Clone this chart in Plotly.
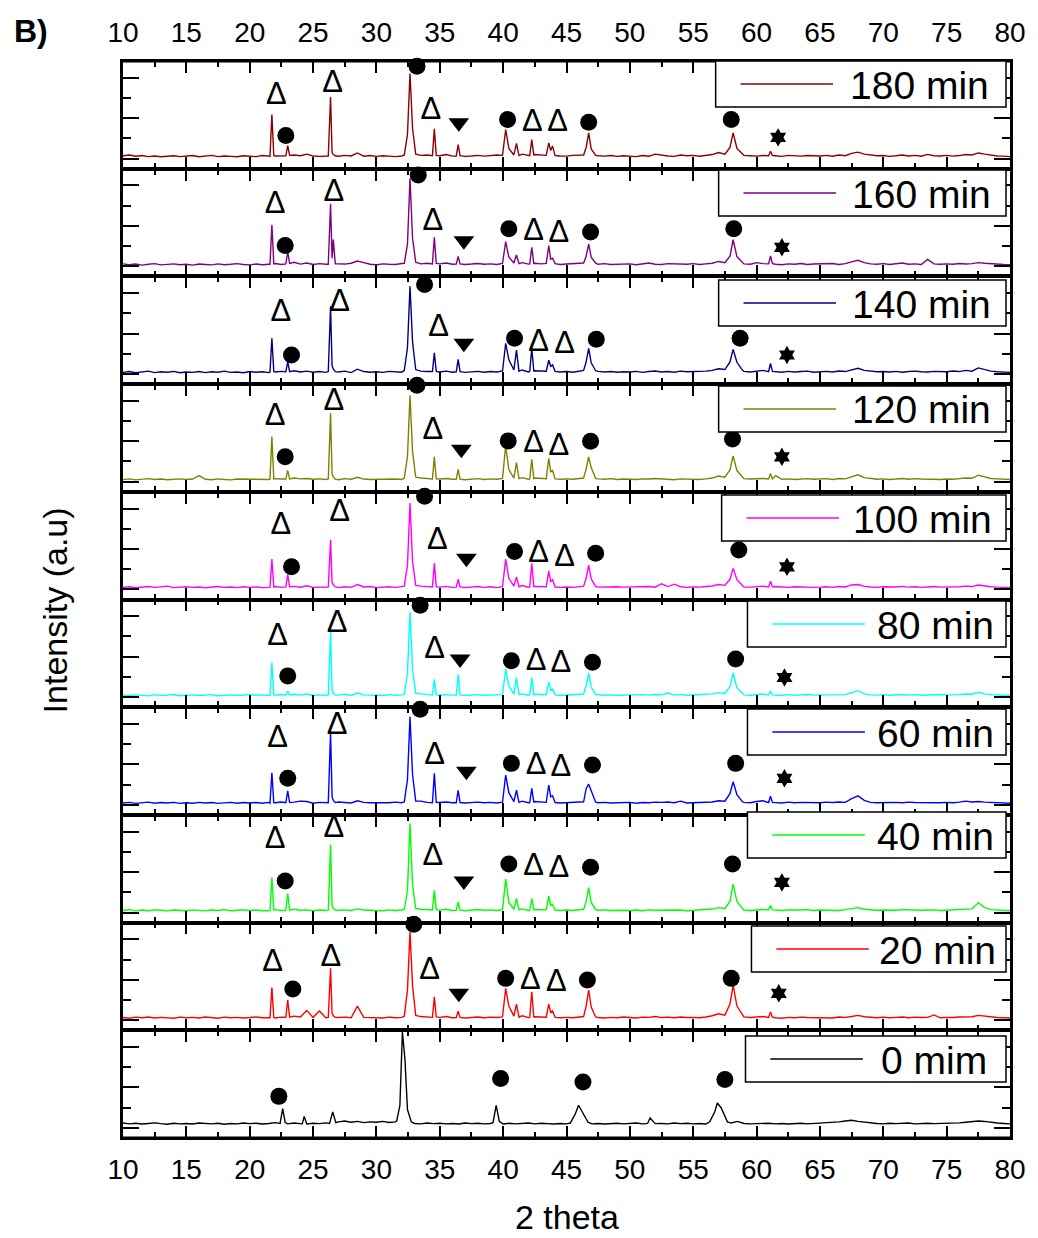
import numpy as np
import plotly.graph_objects as go
from plotly.subplots import make_subplots

# ---------------------------------------------------------------------------
# XRD patterns (intensity in arbitrary units) for the reaction-time series
# ---------------------------------------------------------------------------
TWO_THETA_GRID = np.round(np.arange(10.0, 80.0001, 0.5), 2)   # baseline sampling, 2-theta

SERIES_LABELS = ["180 min", "160 min", "140 min", "120 min", "100 min",
                 "80 min", "60 min", "40 min", "20 min", "0 mim"]
SERIES_COLORS = ["#8B0000", "#800080", "#000080", "#808000", "#FF00FF",
                 "#00FFFF", "#0000FF", "#00FF00", "#FF0000", "#000000"]

# baseline intensity on TWO_THETA_GRID (one row = 5 degrees)
BASE_180 = [14, 18, 12, 15, 10, 13, 9, 12, 14, 10,
            11, 15, 9, 12, 16, 10, 13, 11, 9, 14,
            12, 10, 15, 11, 13, 12, 10, 18, 14, 22,
            13, 11, 10, 14, 12, 16, 13, 28, 12, 15,
            11, 14, 12, 10, 13, 15, 11, 16, 18, 20,
            14, 20, 12, 15, 11, 13, 16, 12, 14, 18,
            20, 16, 18, 22, 14, 20, 18, 15, 22, 13,
            12, 16, 18, 24, 17, 14, 12, 15, 11, 14,
            13, 10, 15, 12, 22, 16, 13, 11, 18, 14,
            16, 12, 15, 20, 30, 26, 18, 22, 16, 14,
            12, 15, 20, 14, 11, 16, 13, 12, 15, 14,
            13, 16, 12, 18, 14, 26, 32, 22, 17, 14,
            15, 11, 14, 18, 13, 16, 12, 21, 14, 13,
            16, 12, 15, 20, 18, 28, 22, 17, 13, 12,
            10]
BASE_160 = [12, 8, 11, 6, 10, 13, 7, 9, 12, 8,
            10, 6, 11, 9, 7, 12, 8, 10, 13, 9,
            7, 11, 8, 10, 14, 9, 12, 20, 11, 16,
            9, 13, 10, 8, 12, 11, 15, 26, 18, 10,
            8, 12, 10, 9, 14, 13, 10, 12, 15, 18,
            12, 16, 10, 13, 9, 11, 14, 10, 12, 9,
            14, 12, 10, 18, 11, 15, 12, 10, 16, 9,
            11, 13, 15, 20, 12, 10, 13, 9, 11, 10,
            12, 8, 11, 16, 10, 9, 13, 12, 14, 10,
            13, 9, 12, 15, 24, 20, 16, 15, 12, 10,
            18, 13, 16, 10, 8, 12, 10, 14, 9, 11,
            12, 10, 14, 9, 13, 22, 30, 18, 12, 10,
            13, 9, 11, 16, 10, 12, 9, 34, 12, 10,
            12, 10, 14, 11, 13, 18, 15, 12, 10, 9,
            8]
BASE_140 = [8, 12, 6, 10, 14, 7, 11, 9, 13, 6,
            10, 8, 12, 7, 11, 9, 14, 8, 10, 6,
            12, 9, 11, 7, 10, 13, 8, 16, 10, 14,
            9, 12, 8, 11, 10, 14, 7, 24, 12, 9,
            11, 8, 13, 10, 9, 12, 10, 14, 12, 16,
            10, 14, 9, 12, 8, 11, 13, 9, 12, 10,
            14, 18, 12, 20, 10, 16, 14, 12, 18, 10,
            12, 9, 14, 22, 11, 13, 10, 12, 9, 11,
            10, 13, 8, 12, 15, 10, 12, 9, 14, 11,
            12, 10, 14, 18, 26, 22, 16, 18, 13, 10,
            14, 18, 12, 11, 9, 13, 10, 12, 14, 9,
            11, 13, 10, 15, 12, 20, 28, 18, 13, 11,
            12, 10, 13, 9, 12, 14, 11, 10, 13, 12,
            11, 15, 12, 18, 14, 30, 22, 14, 11, 9,
            8]
BASE_120 = [10, 14, 9, 12, 15, 11, 13, 10, 12, 14,
            11, 13, 30, 12, 10, 14, 11, 9, 13, 12,
            14, 10, 12, 11, 15, 13, 12, 18, 14, 16,
            12, 14, 11, 13, 10, 15, 12, 22, 13, 11,
            12, 10, 14, 13, 11, 16, 12, 18, 14, 20,
            13, 16, 12, 14, 10, 13, 15, 11, 14, 12,
            18, 16, 14, 20, 12, 18, 16, 13, 20, 12,
            14, 12, 16, 26, 18, 14, 12, 15, 11, 13,
            12, 11, 14, 13, 16, 15, 12, 10, 14, 12,
            13, 11, 14, 18, 28, 24, 18, 20, 15, 13,
            14, 16, 20, 30, 12, 14, 11, 13, 15, 12,
            13, 15, 11, 16, 14, 24, 34, 20, 15, 12,
            14, 11, 13, 16, 12, 15, 13, 12, 14, 11,
            13, 12, 15, 18, 17, 32, 24, 16, 14, 12,
            11]
BASE_100 = [9, 13, 8, 11, 14, 10, 12, 16, 9, 11,
            13, 10, 12, 8, 11, 14, 10, 12, 9, 13,
            10, 12, 9, 11, 14, 10, 13, 15, 11, 18,
            10, 12, 14, 11, 9, 13, 10, 24, 12, 14,
            9, 11, 13, 10, 12, 14, 10, 16, 15, 18,
            11, 15, 10, 13, 9, 12, 14, 10, 13, 9,
            16, 14, 12, 19, 11, 15, 12, 10, 16, 10,
            12, 10, 14, 20, 13, 11, 12, 10, 13, 11,
            12, 10, 13, 14, 11, 28, 14, 26, 13, 10,
            12, 11, 14, 17, 24, 22, 16, 15, 12, 11,
            14, 16, 22, 14, 12, 10, 13, 11, 12, 10,
            11, 13, 10, 14, 12, 22, 24, 15, 12, 10,
            13, 11, 12, 15, 11, 13, 10, 12, 14, 11,
            12, 10, 13, 16, 14, 22, 17, 13, 11, 10,
            9]
BASE_80 = [10, 7, 11, 9, 6, 12, 8, 10, 13, 7,
           9, 11, 8, 10, 12, 7, 9, 11, 8, 10,
           12, 9, 11, 8, 10, 13, 9, 14, 10, 15,
           8, 11, 9, 12, 10, 14, 8, 20, 11, 9,
           10, 8, 12, 9, 11, 14, 10, 16, 12, 15,
           9, 12, 10, 13, 8, 11, 12, 9, 11, 10,
           14, 12, 10, 16, 9, 14, 12, 10, 15, 8,
           10, 9, 12, 18, 10, 12, 9, 11, 8, 10,
           11, 9, 12, 10, 13, 11, 20, 10, 12, 9,
           11, 10, 13, 16, 22, 20, 14, 15, 11, 9,
           12, 15, 11, 10, 8, 12, 9, 11, 13, 10,
           11, 12, 10, 14, 12, 22, 32, 16, 11, 10,
           12, 9, 11, 13, 10, 12, 9, 11, 10, 13,
           11, 10, 12, 15, 14, 24, 16, 12, 10, 9,
           8]
BASE_60 = [9, 12, 7, 10, 13, 8, 11, 9, 12, 7,
           10, 8, 12, 9, 11, 7, 10, 12, 8, 11,
           9, 11, 8, 12, 10, 14, 9, 13, 18, 16,
           8, 12, 10, 11, 14, 12, 9, 20, 12, 10,
           9, 11, 10, 13, 10, 14, 16, 18, 12, 20,
           11, 14, 10, 12, 9, 11, 13, 10, 12, 9,
           15, 13, 11, 18, 10, 16, 14, 11, 17, 9,
           11, 10, 13, 24, 12, 10, 12, 9, 11, 10,
           12, 8, 11, 10, 13, 12, 14, 10, 18, 9,
           11, 10, 13, 14, 20, 18, 14, 16, 12, 10,
           16, 20, 13, 11, 9, 13, 10, 12, 11, 9,
           10, 13, 11, 14, 12, 30, 44, 22, 12, 10,
           11, 9, 12, 10, 13, 11, 10, 12, 11, 10,
           12, 10, 13, 18, 14, 16, 13, 11, 10, 9,
           8]
BASE_40 = [10, 14, 8, 12, 9, 13, 11, 8, 12, 10,
           9, 13, 11, 8, 12, 10, 14, 9, 11, 13,
           10, 12, 9, 11, 14, 10, 12, 16, 11, 13,
           9, 12, 10, 14, 11, 13, 10, 18, 12, 10,
           11, 9, 13, 10, 12, 14, 11, 16, 14, 18,
           12, 16, 10, 13, 9, 12, 15, 11, 13, 10,
           16, 14, 12, 18, 10, 15, 13, 11, 18, 10,
           12, 10, 14, 20, 12, 11, 13, 10, 12, 11,
           10, 12, 9, 13, 11, 12, 10, 14, 12, 9,
           11, 10, 14, 17, 24, 20, 16, 16, 12, 10,
           13, 15, 12, 11, 10, 13, 11, 12, 14, 10,
           12, 11, 13, 10, 14, 18, 24, 16, 13, 11,
           12, 10, 11, 14, 12, 13, 11, 12, 13, 10,
           12, 11, 14, 16, 18, 48, 24, 14, 12, 10,
           9]
BASE_20 = [13, 10, 15, 12, 16, 11, 14, 12, 10, 15,
           12, 14, 11, 16, 13, 10, 15, 12, 14, 11,
           13, 16, 12, 14, 11, 15, 13, 20, 16, 48,
           14, 45, 12, 16, 13, 15, 12, 70, 14, 12,
           13, 11, 15, 12, 14, 16, 12, 18, 16, 20,
           14, 18, 12, 15, 11, 13, 16, 12, 15, 13,
           18, 16, 14, 22, 13, 17, 15, 12, 20, 12,
           14, 12, 16, 24, 15, 13, 11, 14, 12, 16,
           13, 11, 15, 14, 18, 13, 15, 12, 16, 13,
           14, 12, 16, 22, 32, 28, 20, 22, 16, 13,
           15, 18, 14, 12, 10, 14, 12, 15, 13, 12,
           14, 13, 11, 16, 14, 18, 24, 17, 14, 12,
           15, 12, 14, 16, 12, 15, 13, 14, 26, 12,
           14, 13, 16, 18, 17, 24, 20, 15, 13, 12,
           11]
BASE_0 = [24, 20, 23, 19, 22, 25, 21, 18, 23, 20,
          22, 19, 24, 21, 20, 23, 18, 22, 20, 24,
          21, 23, 19, 22, 26, 21, 20, 24, 22, 19,
          23, 21, 25, 22, 30, 34, 28, 32, 26, 30,
          28, 32, 27, 30, 26, 34, 22, 20, 24, 21,
          23, 20, 22, 19, 24, 21, 23, 20, 22, 21,
          19, 23, 20, 22, 24, 20, 23, 21, 19, 22,
          20, 24, 21, 23, 20, 22, 19, 21, 23, 20,
          22, 24, 20, 23, 21, 22, 20, 24, 21, 23,
          20, 22, 19, 26, 30, 28, 24, 32, 22, 20,
          22, 21, 23, 20, 22, 19, 21, 23, 20, 22,
          21, 24, 26, 30, 34, 38, 32, 28, 24, 22,
          20, 23, 21, 22, 24, 20, 22, 23, 21, 22,
          24, 22, 25, 28, 30, 34, 32, 27, 24, 22,
          20]

# Bragg reflections: 2-theta vertices of each reflection profile
PEAK_X = [[21.6, 21.75, 21.9],
          [22.85, 23.0, 23.15],
          [26.2, 26.38, 26.5, 26.6, 26.75],
          [32.2, 32.45, 32.65, 32.85, 33.1],
          [34.42, 34.57, 34.72],
          [36.3, 36.45, 36.6],
          [39.95, 40.2, 40.45, 40.85, 41.05, 41.25],
          [42.1, 42.26, 42.42],
          [43.4, 43.6, 43.75, 43.9, 44.1],
          [46.35, 46.55, 46.75, 46.95, 47.3],
          [57.5, 57.9, 58.15, 58.45, 58.9],
          [60.95, 61.1, 61.25]]
PEAK_X_0 = [[22.4, 22.6, 22.8],
            [24.15, 24.3, 24.45],
            [26.3, 26.55, 26.8],
            [31.6, 31.85, 32.05, 32.25, 32.45, 32.75],
            [39.2, 39.45, 39.7],
            [45.3, 45.7, 45.95, 46.3, 46.7],
            [51.4, 51.6, 51.9],
            [56.3, 56.7, 56.9, 57.2, 57.7]]

# intensities at the profile vertices
PEAKS_180 = [[12, 218, 14], [14, 64, 16], [13, 305, 30, 20, 14], [18, 120, 421, 150, 22],
             [14, 147, 16], [13, 69, 15], [16, 144, 50, 18, 75, 15], [15, 94, 18],
             [16, 78, 40, 62, 15], [18, 55, 127, 48, 16], [22, 55, 127, 50, 18], [14, 36, 15]]
PEAKS_160 = [[10, 205, 12], [12, 72, 14], [10, 310, 40, 132, 12], [15, 110, 435, 140, 20],
             [12, 144, 14], [11, 49, 12], [14, 122, 45, 16, 56, 13], [12, 94, 14],
             [14, 102, 35, 40, 13], [16, 50, 110, 45, 15], [18, 50, 132, 48, 16], [12, 52, 13]]
PEAKS_140 = [[10, 177, 12], [11, 60, 12], [12, 335, 40, 25, 12], [18, 130, 434, 160, 22],
             [12, 105, 13], [11, 72, 12], [15, 152, 70, 20, 118, 14], [13, 127, 15],
             [14, 68, 38, 45, 13], [18, 60, 127, 55, 16], [22, 60, 122, 58, 18], [12, 53, 13]]
PEAKS_120 = [[12, 223, 14], [13, 56, 14], [14, 339, 38, 24, 13], [18, 125, 428, 150, 22],
             [13, 123, 14], [12, 61, 13], [16, 178, 60, 18, 95, 15], [14, 111, 15],
             [15, 116, 50, 55, 14], [18, 62, 123, 70, 16], [22, 58, 128, 55, 18], [13, 40, 14]]
PEAKS_100 = [[10, 150, 12], [12, 74, 13], [12, 245, 35, 22, 12], [16, 120, 428, 140, 20],
             [12, 129, 13], [11, 50, 12], [14, 150, 55, 16, 62, 13], [12, 129, 14],
             [13, 91, 40, 48, 12], [16, 55, 120, 52, 15], [20, 50, 104, 48, 16], [12, 40, 13]]
PEAKS_80 = [[9, 171, 11], [10, 30, 11], [11, 321, 35, 20, 10], [14, 120, 421, 135, 18],
            [10, 88, 11], [10, 113, 11], [12, 138, 55, 15, 97, 12], [11, 97, 12],
            [12, 75, 35, 40, 11], [15, 55, 118, 50, 13], [18, 52, 118, 45, 14], [10, 30, 11]]
PEAKS_60 = [[8, 159, 10], [10, 69, 11], [10, 359, 40, 22, 11], [15, 125, 435, 150, 18],
            [10, 156, 12], [10, 72, 11], [13, 147, 60, 16, 72, 12], [11, 81, 12],
            [12, 98, 40, 45, 11], [15, 80, 102, 70, 13], [18, 55, 114, 50, 14], [11, 42, 12]]
PEAKS_40 = [[10, 173, 12], [11, 94, 12], [12, 336, 35, 20, 12], [16, 110, 440, 135, 20],
            [12, 110, 13], [11, 53, 12], [14, 165, 50, 16, 70, 13], [12, 69, 14],
            [13, 82, 35, 40, 12], [16, 55, 123, 50, 14], [20, 55, 140, 55, 16], [12, 35, 13]]
PEAKS_20 = [[12, 161, 14], [14, 100, 15], [14, 257, 35, 22, 14], [20, 150, 437, 170, 24],
            [14, 116, 16], [13, 44, 14], [16, 158, 70, 20, 79, 15], [14, 141, 16],
            [15, 79, 40, 45, 14], [18, 70, 149, 65, 16], [25, 80, 174, 70, 20], [14, 40, 15]]
PEAKS_0 = [[22, 95, 26], [20, 57, 21], [22, 79, 26], [35, 110, 475, 340, 90, 30],
           [26, 112, 32], [24, 70, 112, 75, 28], [22, 49, 24], [30, 80, 123, 100, 30]]

# phase labels: Δ, ● , ▼ and ✶ above the reflections
PHASE_KINDS = ["delta", "dot", "delta", "dot", "delta", "down",
               "dot", "delta", "delta", "dot", "dot", "star"]
PHASE_KINDS_0 = ["dot", "dot", "dot", "dot", "dot"]

PHASE_X_180 = [22.1, 22.85, 26.55, 33.2, 34.3, 36.5, 40.35, 42.3, 44.3, 46.75, 58.0, 61.7]
PHASE_Y_180 = [308, 114, 366, 457, 234, 177, 193, 173, 173, 180, 193, 105]
PHASE_X_160 = [22.0, 22.8, 26.65, 33.3, 34.45, 36.9, 40.45, 42.4, 44.4, 46.9, 58.2, 62.0]
PHASE_Y_160 = [302, 103, 360, 452, 219, 127, 186, 170, 160, 170, 186, 94]
PHASE_X_140 = [22.45, 23.3, 27.1, 33.8, 34.9, 36.9, 40.9, 42.8, 44.85, 47.35, 58.7, 62.4]
PHASE_Y_140 = [301, 94, 351, 443, 226, 152, 177, 152, 143, 172, 177, 94]
PHASE_X_120 = [22.0, 22.8, 26.65, 33.2, 34.45, 36.7, 40.4, 42.4, 44.4, 46.9, 58.1, 62.0]
PHASE_Y_120 = [319, 123, 394, 477, 252, 161, 202, 186, 169, 200, 211, 123]
PHASE_X_100 = [22.45, 23.3, 27.1, 33.8, 34.8, 37.1, 40.9, 42.8, 44.85, 47.3, 58.6, 62.4]
PHASE_Y_100 = [312, 112, 378, 461, 237, 154, 187, 174, 154, 179, 195, 112]
PHASE_X_80 = [22.2, 23.0, 26.9, 33.45, 34.6, 36.6, 40.65, 42.6, 44.55, 47.05, 58.35, 62.2]
PHASE_Y_80 = [296, 105, 362, 454, 230, 188, 180, 172, 162, 172, 188, 97]
PHASE_X_60 = [22.2, 23.0, 26.9, 33.45, 34.6, 37.1, 40.65, 42.6, 44.55, 47.05, 58.35, 62.2]
PHASE_Y_60 = [322, 131, 389, 473, 240, 166, 205, 189, 181, 197, 205, 131]
PHASE_X_40 = [22.0, 22.8, 26.65, 33.2, 34.45, 36.9, 40.45, 42.4, 44.4, 46.9, 58.1, 62.0]
PHASE_Y_40 = [356, 156, 414, 497, 273, 156, 240, 224, 215, 224, 240, 149]
PHASE_X_20 = [21.8, 23.4, 26.4, 32.95, 34.2, 36.5, 40.2, 42.15, 44.2, 46.65, 58.0, 61.75]
PHASE_Y_20 = [282, 154, 307, 475, 241, 133, 207, 191, 183, 199, 207, 133]
PHASE_X_0 = [22.3, 32.75, 39.8, 46.3, 57.5]
PHASE_Y_0 = [156, 508, 244, 227, 239]

BASELINES = [BASE_180, BASE_160, BASE_140, BASE_120, BASE_100,
             BASE_80, BASE_60, BASE_40, BASE_20, BASE_0]
PEAK_LAYOUTS = [PEAK_X] * 9 + [PEAK_X_0]
PEAK_VALUES = [PEAKS_180, PEAKS_160, PEAKS_140, PEAKS_120, PEAKS_100,
               PEAKS_80, PEAKS_60, PEAKS_40, PEAKS_20, PEAKS_0]
PHASE_XS = [PHASE_X_180, PHASE_X_160, PHASE_X_140, PHASE_X_120, PHASE_X_100,
            PHASE_X_80, PHASE_X_60, PHASE_X_40, PHASE_X_20, PHASE_X_0]
PHASE_YS = [PHASE_Y_180, PHASE_Y_160, PHASE_Y_140, PHASE_Y_120, PHASE_Y_100,
            PHASE_Y_80, PHASE_Y_60, PHASE_Y_40, PHASE_Y_20, PHASE_Y_0]
PHASE_KIND_LISTS = [PHASE_KINDS] * 9 + [PHASE_KINDS_0]

X_TICK_VALUES = [10, 15, 20, 25, 30, 35, 40, 45, 50, 55, 60, 65, 70, 75, 80]

# ---------------------------------------------------------------------------
# figure geometry (pixels)
# ---------------------------------------------------------------------------
W, H = 1038, 1238
ML, MR, MT, MB = 123, 23, 61, 100
PLOT_W = W - ML - MR
PLOT_H = H - MT - MB
FONT = "Liberation Sans, Arial, Helvetica, sans-serif"

LEGEND_LEFT_PX = [719, 722, 722, 722, 725, 751, 751, 751, 755, 749]
LEGEND_TOP_PX = [61, 170, 280, 386, 495, 601, 709, 812, 926, 1036]
LEGEND_RIGHT_PX = 1011
LEGEND_H_PX = 46


def px_x(p):
    return (p - ML) / PLOT_W


def px_y(p):
    return 1 - (p - MT) / PLOT_H


def pattern(baseline, runs_x, runs_y):
    """Merge the baseline samples with the reflection profile vertices."""
    gx = TWO_THETA_GRID
    keep = np.ones(len(gx), dtype=bool)
    for rx in runs_x:
        keep &= ~((gx >= rx[0]) & (gx <= rx[-1]))
    xs = np.concatenate([gx[keep], [v for r in runs_x for v in r]])
    ys = np.concatenate([np.asarray(baseline, float)[keep], [v for r in runs_y for v in r]])
    order = np.argsort(xs, kind="stable")
    return xs[order], ys[order]


n = len(SERIES_LABELS)
fig = make_subplots(rows=n, cols=1, vertical_spacing=0)

for i in range(n):
    row = i + 1
    xs, ys = pattern(BASELINES[i], PEAK_LAYOUTS[i], PEAK_VALUES[i])
    fig.add_trace(go.Scatter(x=xs, y=ys, mode="lines",
                             line=dict(color=SERIES_COLORS[i], width=1.4),
                             name=SERIES_LABELS[i], showlegend=False,
                             hoverinfo="skip"), row=row, col=1)

    px_ = np.asarray(PHASE_XS[i])
    py_ = np.asarray(PHASE_YS[i])
    kinds = np.asarray(PHASE_KIND_LISTS[i])

    sel = kinds == "delta"
    if sel.any():
        fig.add_trace(go.Scatter(x=px_[sel], y=py_[sel], mode="text", text=["Δ"] * int(sel.sum()),
                                 textposition="middle center",
                                 textfont=dict(family=FONT, size=31, color="black"),
                                 cliponaxis=False, showlegend=False, hoverinfo="skip"),
                      row=row, col=1)
    for kind, symbol, size in (("dot", "circle", 17), ("down", "triangle-down", 18),
                               ("star", "hexagram", 14)):
        sel = kinds == kind
        if sel.any():
            fig.add_trace(go.Scatter(x=px_[sel], y=py_[sel], mode="markers",
                                     marker=dict(symbol=symbol, size=size, color="black",
                                                 line=dict(width=0)),
                                     cliponaxis=False, showlegend=False, hoverinfo="skip"),
                          row=row, col=1)

    # the frame line of each panel is thin so that neighbouring panels share
    # one boundary line; the outer top and bottom edges are added as shapes
    fig.update_xaxes(range=[10, 80], tickmode="array", tickvals=X_TICK_VALUES,
                     ticktext=[str(v) for v in X_TICK_VALUES],
                     ticks="inside", ticklen=12, tickwidth=2, tickcolor="black",
                     minor=dict(tickmode="linear", tick0=10, dtick=2.5, ticks="inside",
                                ticklen=6, tickwidth=2, tickcolor="black"),
                     showline=True, linewidth=1.6, linecolor="black", mirror="ticks",
                     showgrid=False, zeroline=False,
                     showticklabels=(row in (1, n)), side="top" if row == 1 else "bottom",
                     tickfont=dict(family=FONT, size=28, color="black"),
                     ticklabelstandoff=6, row=row, col=1)
    fig.update_yaxes(range=[-50, 483], tick0=0, dtick=200,
                     ticks="inside", ticklen=16, tickwidth=2, tickcolor="black",
                     minor=dict(tick0=0, dtick=100, ticks="inside", ticklen=8,
                                tickwidth=2, tickcolor="black"),
                     showline=True, linewidth=2.8, linecolor="black", mirror="ticks",
                     showgrid=False, zeroline=False, showticklabels=False,
                     row=row, col=1)

shapes = [dict(type="line", xref="paper", yref="paper", x0=px_x(ML - 1.4), x1=px_x(ML + PLOT_W + 1.4),
               y0=edge, y1=edge, line=dict(color="black", width=3), layer="above")
          for edge in (0, 1)]
annotations = []

# per-panel legend boxes
for i in range(n):
    L = LEGEND_LEFT_PX[i]
    T = LEGEND_TOP_PX[i]
    B = T + LEGEND_H_PX
    mid = (T + B) / 2
    shapes.append(dict(type="rect", xref="paper", yref="paper",
                       x0=px_x(L), x1=px_x(LEGEND_RIGHT_PX), y0=px_y(B), y1=px_y(T),
                       line=dict(color="black", width=1.5), fillcolor="white", layer="above"))
    shapes.append(dict(type="line", xref="paper", yref="paper",
                       x0=px_x(L + 25), x1=px_x(L + 118), y0=px_y(mid), y1=px_y(mid),
                       line=dict(color=SERIES_COLORS[i], width=1.5), layer="above"))
    annotations.append(dict(text=SERIES_LABELS[i], xref="paper", yref="paper",
                            x=px_x((L + 131 + 998) / 2), y=px_y(mid + 1),
                            xanchor="center", yanchor="middle", showarrow=False,
                            font=dict(family=FONT, size=39, color="black")))

annotations.append(dict(text="<b>B)</b>", xref="paper", yref="paper",
                        x=px_x(11), y=px_y(31), xanchor="left", yanchor="middle",
                        showarrow=False, font=dict(family=FONT, size=32, color="black")))
annotations.append(dict(text="2 theta", xref="paper", yref="paper",
                        x=px_x(570), y=px_y(1217), xanchor="center", yanchor="middle",
                        showarrow=False, font=dict(family=FONT, size=34, color="black")))
annotations.append(dict(text="Intensity (a.u)", xref="paper", yref="paper",
                        x=px_x(55), y=px_y(610), xanchor="center", yanchor="middle",
                        textangle=-90, showarrow=False,
                        font=dict(family=FONT, size=34, color="black")))

fig.update_layout(width=W, height=H, margin=dict(l=ML, r=MR, t=MT, b=MB, pad=0),
                  paper_bgcolor="white", plot_bgcolor="white", showlegend=False,
                  shapes=shapes, annotations=annotations)

fig.write_html("out.html")
